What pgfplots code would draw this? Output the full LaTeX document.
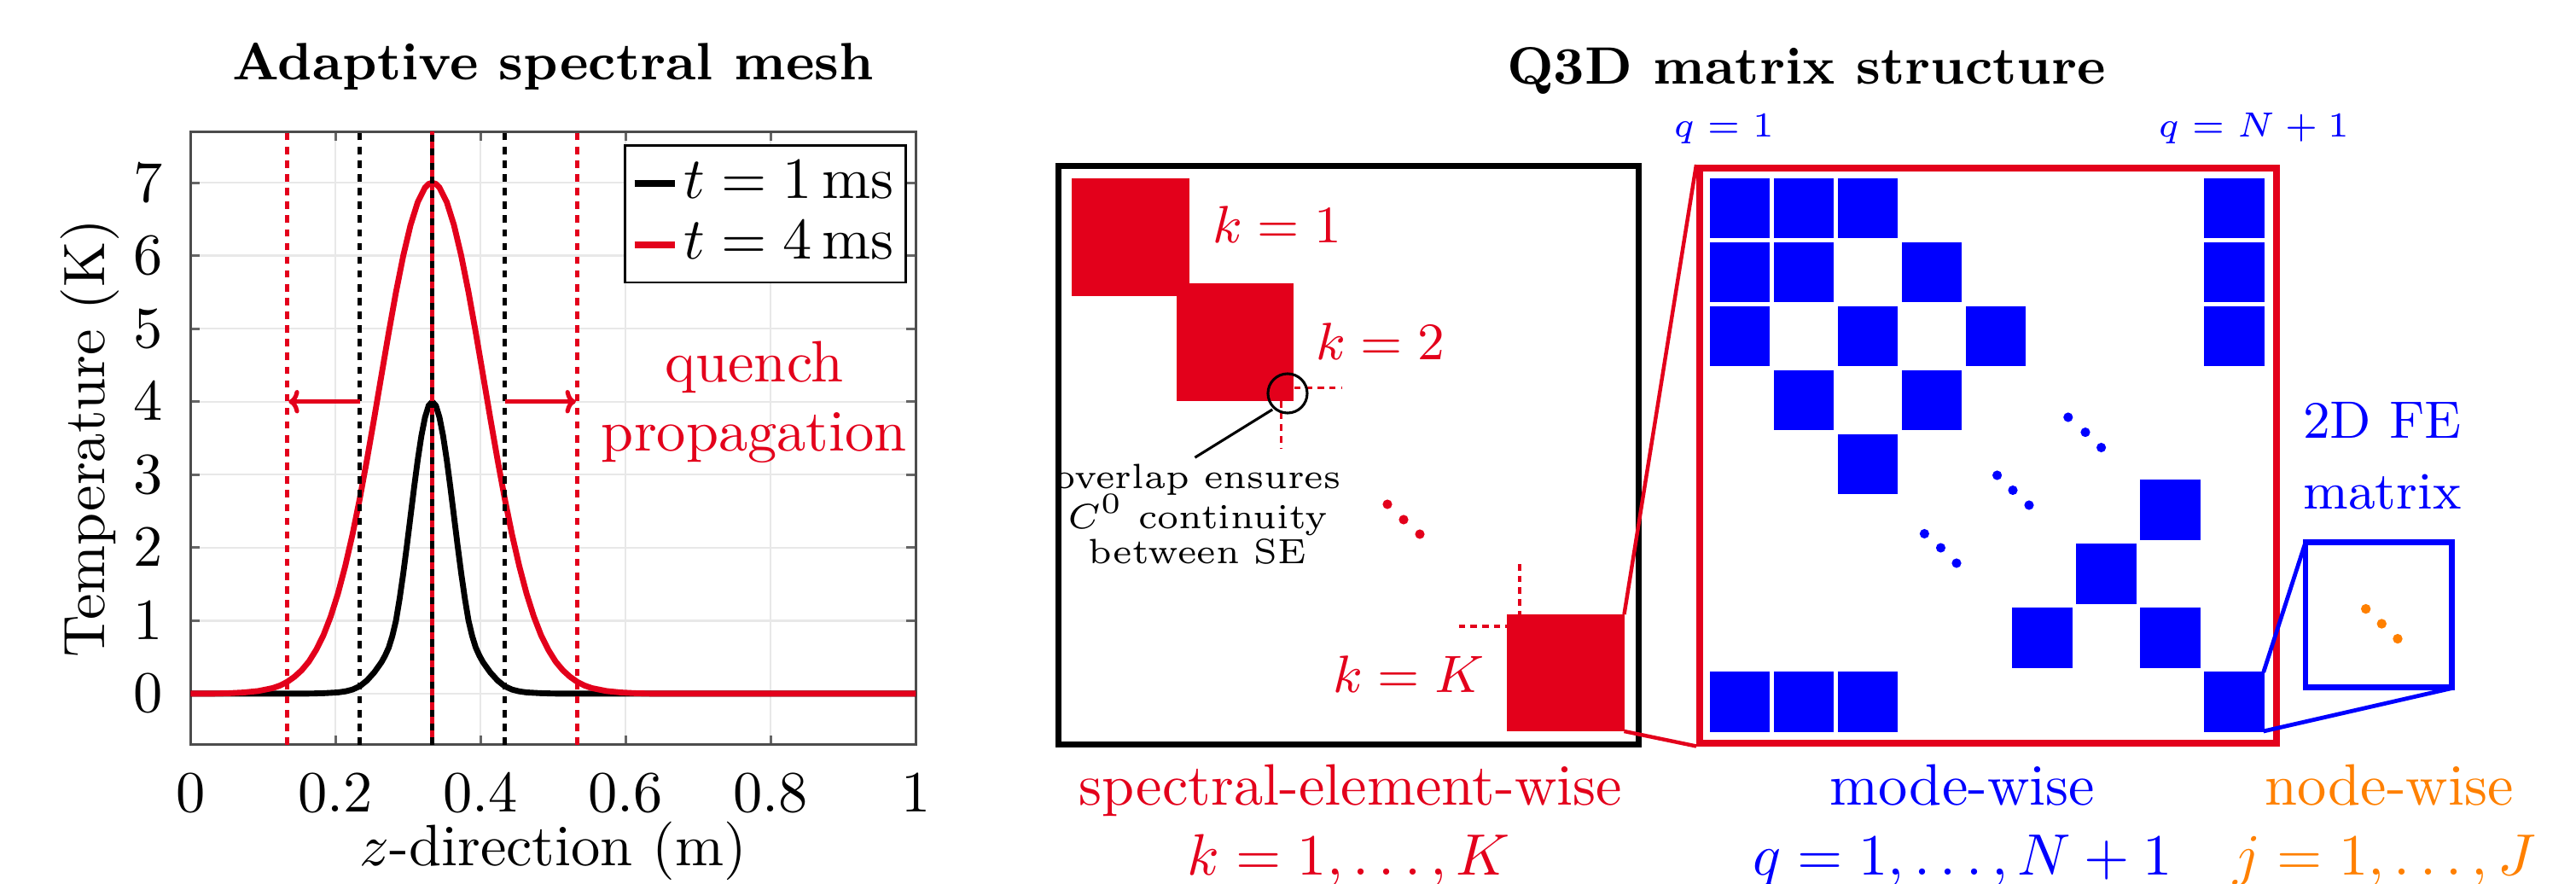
\documentclass[border=0pt]{standalone}
\usepackage{pgfplots}
\pgfplotsset{compat=1.18}
\usetikzlibrary{arrows.meta}
\definecolor{tured}{RGB}{227,0,27}
\definecolor{tublue}{RGB}{0,0,255}
\definecolor{tuorange}{RGB}{255,128,0}
\begin{document}
\begin{tikzpicture}
\path[use as bounding box] (0,0) rectangle (440.774pt,151.256pt);
% ---------------- left: adaptive spectral mesh ----------------
\begin{axis}[
  at={(32.60pt,23.84pt)}, anchor=south west, scale only axis,
  width=124.1pt, height=104.89pt,
  xmin=0, xmax=1, ymin=-0.7, ymax=7.7,
  xtick={0,0.2,0.4,0.6,0.8,1}, ytick={0,1,2,3,4,5,6,7},
  grid=major, major grid style={black!9, line width=0.35pt},
  axis line style={black!70, line width=0.45pt},
  major tick style={black!60, line width=0.4pt},
  major tick length=1.6pt, tick align=inside,
  xticklabel style={yshift=-1.5pt}, yticklabel style={xshift=-1.2pt},
  xlabel={$z$-direction (m)}, ylabel={Temperature (K)},
  xlabel style={at={(axis description cs:0.5,-0.1976)}, anchor=base},
  ylabel style={at={(axis description cs:-0.118,0.5)}, anchor=base},
  title={Adaptive spectral mesh},
  title style={at={(axis description cs:0.5,1)}, anchor=base, yshift=2.95pt, font=\fontsize{9}{11}\selectfont\bfseries},
  legend style={at={(0.9876,0.979)}, anchor=north east, draw=black, line width=0.4pt,
    inner xsep=1pt, inner ysep=1.5pt, row sep=0.5pt, font=\normalsize,
    cells={anchor=west}, nodes={inner sep=1pt}},
  legend image code/.code={\draw[#1, line width=1.2pt] (0pt,0pt) -- (6.9pt,0pt);},
]
\addplot[black, line width=1pt] coordinates {
 (0,0) (0.1633,0) (0.1833,0.005) (0.2033,0.016) (0.2133,0.03) (0.2233,0.055)
 (0.2333,0.10) (0.2433,0.18) (0.2533,0.29) (0.2633,0.43) (0.2683,0.52) (0.2733,0.63)
 (0.2783,0.79) (0.2833,1.0) (0.2883,1.30) (0.2933,1.644) (0.2983,2.025) (0.3033,2.426)
 (0.3083,2.826) (0.3133,3.203) (0.3183,3.530) (0.3233,3.784) (0.3283,3.945) (0.3333,4)
 (0.3383,3.945) (0.3433,3.784) (0.3483,3.530) (0.3533,3.203) (0.3583,2.826) (0.3633,2.426)
 (0.3683,2.025) (0.3733,1.644) (0.3783,1.30) (0.3833,1.0) (0.3883,0.79) (0.3933,0.63)
 (0.3983,0.52) (0.4033,0.43) (0.4133,0.29) (0.4233,0.18) (0.4333,0.10) (0.4433,0.055)
 (0.4533,0.03) (0.4633,0.016) (0.4833,0.005) (0.5033,0) (1,0)};
\addlegendentry{$t=1\,\mathrm{ms}$}
\addplot[tured, line width=1pt] coordinates {
 (0,0) (0.0333,0) (0.0533,0.005) (0.0733,0.015) (0.0933,0.035) (0.1133,0.075)
 (0.1233,0.11) (0.1333,0.16) (0.1433,0.23) (0.1533,0.32) (0.1633,0.44) (0.1733,0.60)
 (0.1833,0.80) (0.1933,1.057) (0.2033,1.371) (0.2133,1.746) (0.2233,2.179) (0.2333,2.668)
 (0.2433,3.205) (0.2533,3.776) (0.2633,4.364) (0.2733,4.947) (0.2833,5.501) (0.2933,5.999)
 (0.3033,6.418) (0.3133,6.735) (0.3233,6.933) (0.3283,6.983) (0.3333,7)
 (0.3383,6.983) (0.3433,6.933) (0.3533,6.735) (0.3633,6.418) (0.3733,5.999) (0.3833,5.501)
 (0.3933,4.947) (0.4033,4.364) (0.4133,3.776) (0.4233,3.205) (0.4333,2.668) (0.4433,2.179)
 (0.4533,1.746) (0.4633,1.371) (0.4733,1.057) (0.4833,0.80) (0.4933,0.60) (0.5033,0.44)
 (0.5133,0.32) (0.5233,0.23) (0.5333,0.16) (0.5433,0.11) (0.5533,0.075) (0.5733,0.035)
 (0.5933,0.015) (0.6133,0.005) (0.6333,0) (1,0)};
\addlegendentry{$t=4\,\mathrm{ms}$}
% mesh boundaries
\addplot[tured, line width=0.68pt, dash pattern=on 1.25pt off 1.1pt, forget plot] coordinates {(0.1333,-0.7) (0.1333,7.7)};
\addplot[tured, line width=0.68pt, dash pattern=on 1.25pt off 1.1pt, forget plot] coordinates {(0.5333,-0.7) (0.5333,7.7)};
\addplot[black, line width=0.68pt, dash pattern=on 1.25pt off 1.1pt, forget plot] coordinates {(0.2333,-0.7) (0.2333,7.7)};
\addplot[black, line width=0.68pt, dash pattern=on 1.25pt off 1.1pt, forget plot] coordinates {(0.4333,-0.7) (0.4333,7.7)};
\addplot[tured, line width=0.68pt, forget plot] coordinates {(0.3333,-0.7) (0.3333,7.7)};
\addplot[black, line width=0.68pt, dash pattern=on 1.2pt off 1.2pt, forget plot] coordinates {(0.3333,-0.7) (0.3333,7.7)};
% propagation arrows
\addplot[tured, line width=0.75pt, -{To[length=1.8pt,width=4pt]}, forget plot] coordinates {(0.2333,4) (0.1353,4)};
\addplot[tured, line width=0.75pt, -{To[length=1.8pt,width=4pt]}, forget plot] coordinates {(0.4333,4) (0.5313,4)};
\node[tured, anchor=base] at (axis cs:0.7773,4.275) {quench};
\node[tured, anchor=base] at (axis cs:0.7773,3.33) {propagation};
\end{axis}
% ---------------- right: Q3D matrix structure (pixel frame) ----------------
\begin{axis}[
  at={(172.28pt,0pt)}, anchor=south west, scale only axis,
  width=268.494pt, height=151.256pt,
  xmin=1180, xmax=3019, ymin=0, ymax=1036, y dir=reverse,
  hide axis, clip=false]
\node[anchor=base, font=\fontsize{9}{11}\selectfont\bfseries] at (axis cs:2117,98) {Q3D matrix structure};
% outer boxes
\addplot[black, line width=0.97pt] coordinates {(1240.3,194.3) (1920.7,194.3) (1920.7,872.7) (1240.3,872.7)} -- cycle;
\addplot[tured, line width=1.1pt] coordinates {(1992,197) (2668,197) (2668,871) (1992,871)} -- cycle;
% spectral-element blocks
\addplot[only marks, mark=square*, mark size=9.97pt, mark options={fill=tured, draw=tured, line width=0pt}] coordinates {
 (1324.75,278) (1447.35,401) (1835.25,788.5)};
% overlap marks
\addplot[tured, line width=0.5pt, dash pattern=on 1.1pt off 0.9pt] coordinates {(1516.7,454.6) (1573,454.6)};
\addplot[tured, line width=0.5pt, dash pattern=on 1.1pt off 0.9pt] coordinates {(1501.4,470) (1501.4,526)};
\addplot[tured, line width=0.5pt, dash pattern=on 1.1pt off 0.9pt] coordinates {(1781,661) (1781,720)};
\addplot[tured, line width=0.5pt, dash pattern=on 1.1pt off 0.9pt] coordinates {(1709.6,734.2) (1766.7,734.2)};
\addplot[only marks, mark=o, mark size=3.36pt, mark options={black, line width=0.45pt}] coordinates {(1509,461)};
\addplot[black, line width=0.45pt] coordinates {(1491.2,480) (1400.4,536.2)};
\node[anchor=base, font=\fontsize{6}{7}\selectfont] at (axis cs:1403.5,572) {overlap ensures};
\node[anchor=base, font=\fontsize{6}{7}\selectfont] at (axis cs:1403.5,619) {$C^0$ continuity};
\node[anchor=base, font=\fontsize{6}{7}\selectfont] at (axis cs:1403.5,661) {between SE};
\node[anchor=base west, inner sep=0pt, tured, font=\fontsize{9.5}{11}\selectfont] at (axis cs:1420,284.7) {$k=1$};
\node[anchor=base west, inner sep=0pt, tured, font=\fontsize{9.5}{11}\selectfont] at (axis cs:1541,421.4) {$k=2$};
\node[anchor=base east, inner sep=0pt, tured, font=\fontsize{9.5}{11}\selectfont] at (axis cs:1741,811.7) {$k=K$};
\addplot[only marks, mark=*, mark size=0.6pt, mark options={tured}] coordinates {(1626,591) (1645,609) (1664,626)};
% mode blocks
\addplot[only marks, mark=square*, mark size=5.04pt, mark options={fill=tublue, draw=tublue, line width=0pt}] coordinates {
 (2039,244.2) (2114,244.2) (2189,244.2) (2618.5,244.2)
 (2039,319.2) (2114,319.2) (2264,319.2) (2618.5,319.2)
 (2039,394.2) (2189,394.2) (2339,394.2) (2618.5,394.2)
 (2114,469.2) (2264,469.2)
 (2189,544.2)
 (2543.5,597.5)
 (2468.5,672.5)
 (2393.5,747.5) (2543.5,747.5)
 (2039,822.5) (2114,822.5) (2189,822.5) (2618.5,822.5)};
\addplot[only marks, mark=*, mark size=0.6pt, mark options={tublue}] coordinates {
 (2423.8,489) (2444,506.6) (2462.6,524.5)
 (2340.6,557) (2359,574.5) (2378,592)
 (2255.4,625.5) (2274.5,642) (2293,660)};
\node[anchor=base west, inner sep=0pt, tublue, font=\fontsize{6}{7}\selectfont] at (axis cs:1960,160) {$q=1$};
\node[anchor=base west, inner sep=0pt, tublue, font=\fontsize{6}{7}\selectfont] at (axis cs:2528,160) {$q=N+1$};
% 2D FE matrix zoom
\addplot[tublue, line width=0.98pt] coordinates {(2702,635.5) (2873.7,635.5) (2873.7,805.5) (2702,805.5)} -- cycle;
\addplot[only marks, mark=*, mark size=0.62pt, mark options={tuorange}] coordinates {(2772.7,713.6) (2791.3,731) (2810,748.6)};
\node[anchor=base, tublue, font=\fontsize{9}{11}\selectfont] at (axis cs:2792,514) {2D FE};
\node[anchor=base, tublue, font=\fontsize{9}{11}\selectfont] at (axis cs:2792,596) {matrix};
% connectors
\addplot[tured, line width=0.65pt] coordinates {(1903.5,720) (1988,193)};
\addplot[tured, line width=0.65pt] coordinates {(1903.5,857) (1988,874.5)};
\addplot[tublue, line width=0.7pt] coordinates {(2652.7,788) (2702,635.5)};
\addplot[tublue, line width=0.7pt] coordinates {(2652.7,857) (2873.7,806.5)};
% captions
\node[anchor=base, tured] at (axis cs:1583,943) {spectral-element-wise};
\node[anchor=base, tublue] at (axis cs:2300,943) {mode-wise};
\node[anchor=base, tuorange] at (axis cs:2800,943) {node-wise};
\node[anchor=base, tured] at (axis cs:1581,1025) {$k=1,\dots,K$};
\node[anchor=base, tublue] at (axis cs:2300,1025) {$q=1,\dots,N+1$};
\node[anchor=base, tuorange] at (axis cs:2795,1025) {$j=1,\dots,J$};
\end{axis}
\end{tikzpicture}
\end{document}
